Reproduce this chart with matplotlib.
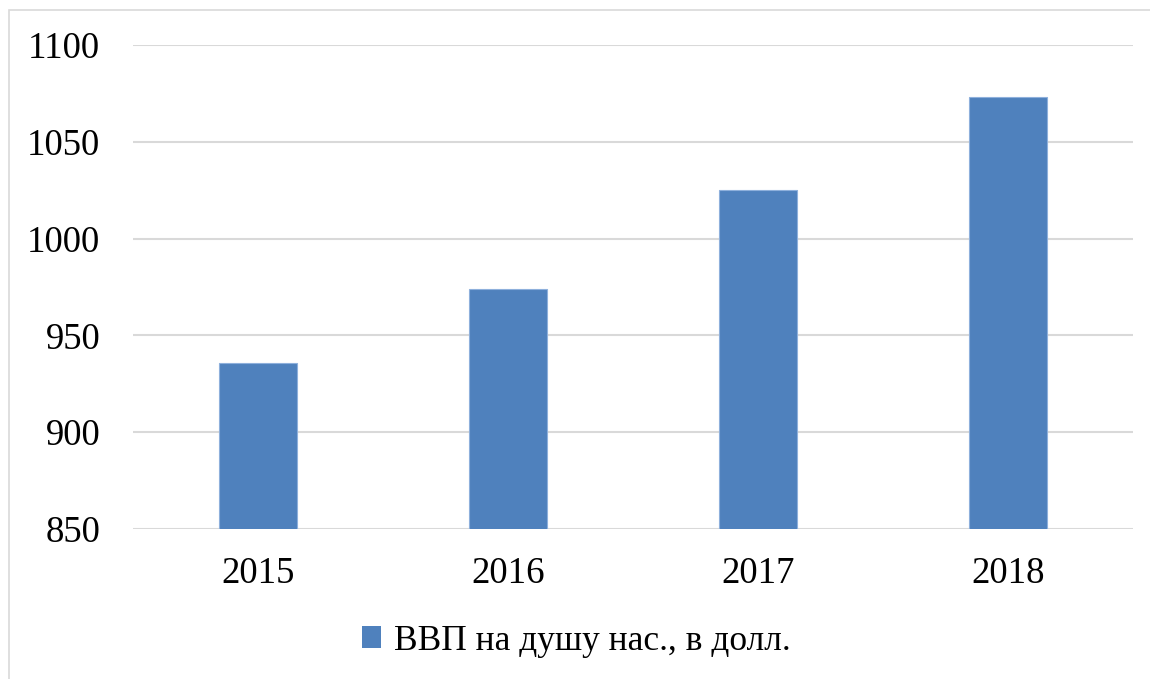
import matplotlib
matplotlib.use("Agg")
import matplotlib.pyplot as plt
from matplotlib.patches import Rectangle, Patch

years = ["2015", "2016", "2017", "2018"]
gdp = [936, 974, 1025, 1073]
yticks = [850, 900, 950, 1000, 1050, 1100]
series_name = "ВВП на душу нас., в долл."

plt.rcParams['font.family'] = ['Liberation Serif', 'DejaVu Serif']

W, H = 1150, 679
fig = plt.figure(figsize=(W / 100, H / 100), dpi=100)
fig.patches.append(Rectangle((9 / W, -0.5), 2, 1.5 - 10 / H, transform=fig.transFigure,
                             fill=False, edgecolor='#d9d9d9', linewidth=1.2))

ax = fig.add_axes([133 / W, 1 - 529 / H, 1000 / W, (529 - 45) / H])
x = range(len(years))
ax.bar(x, gdp, width=0.312, bottom=0, color='#4f81bd', edgecolor='#8eb0dc', linewidth=0.8, zorder=3)
ax.set_ylim(850, 1100)
ax.set_xlim(-0.5, 3.5)
ax.set_yticks(yticks)
ax.set_xticks(list(x))
ax.set_xticklabels(years)
ax.tick_params(axis='both', length=0, labelsize=26.5, colors='black')
ax.tick_params(axis='y', pad=23.5)
ax.tick_params(axis='x', pad=20)
ax.grid(axis='y', color='#d9d9d9', linewidth=1.5, zorder=0)
for s in ax.spines.values():
    s.set_visible(False)

handle = Patch(facecolor='#4f81bd', edgecolor='none')
fig.legend([handle], [series_name], loc='center', bbox_to_anchor=(576 / W, 1 - 641 / H),
           frameon=False, fontsize=25.5, handlelength=0.55, handleheight=0.55,
           handletextpad=0.35)

fig.savefig("out.png", dpi=100)
